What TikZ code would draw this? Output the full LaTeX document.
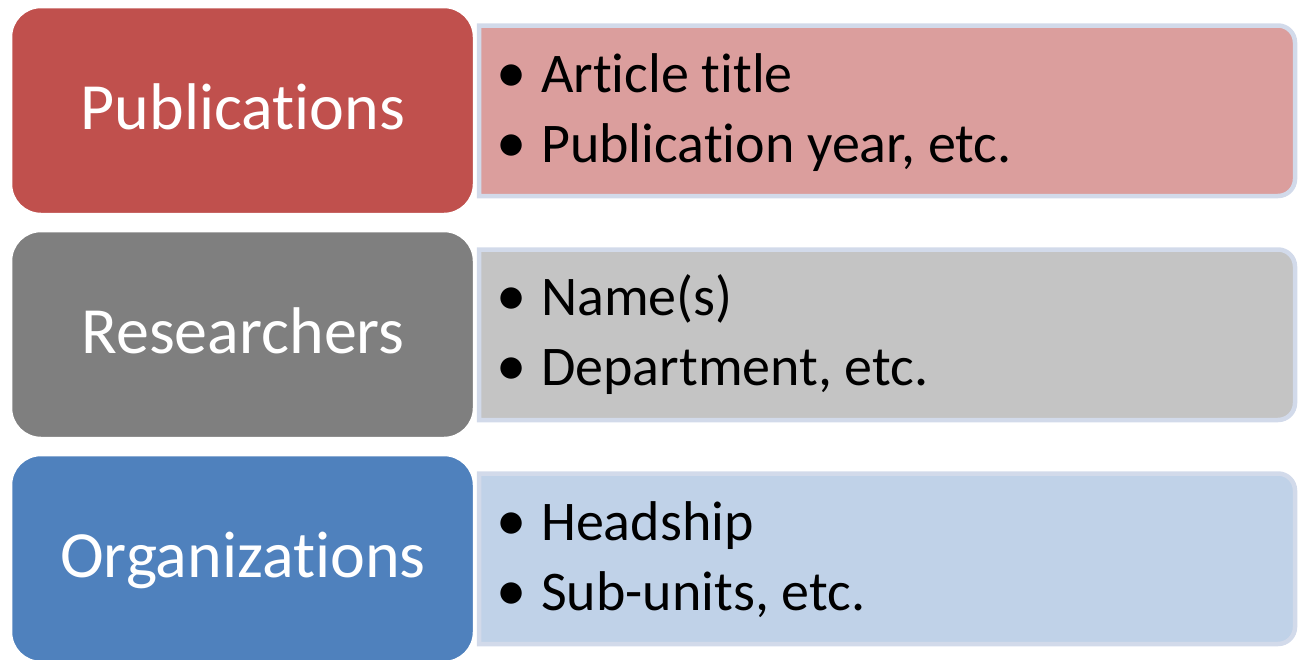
\documentclass[tikz,border=0pt]{standalone}
\usepackage{fontspec}
\setmainfont[RawFeature={-liga;-dlig;-clig}]{Carlito}
\definecolor{redL}{HTML}{C0504D}
\definecolor{redR}{HTML}{DB9E9D}
\definecolor{grayL}{HTML}{7F7F7F}
\definecolor{grayR}{HTML}{C4C4C4}
\definecolor{blueL}{HTML}{4F81BD}
\definecolor{blueR}{HTML}{C0D2E8}
\definecolor{rim}{HTML}{D2DAEA}
\tikzset{
  lbox/.style={draw=white, line width=2.5pt, rounded corners=30pt, minimum width=463pt, minimum height=207pt, inner sep=0pt},
  ltext/.style={text=white, font=\fontsize{66}{66}\selectfont, inner sep=0pt, anchor=base},
  rbox/.style={draw=rim, line width=4.5pt},
  rtext/.style={text=black, font=\fontsize{56}{70}\selectfont, inner sep=0pt, anchor=base west},
}
\newcommand{\bul}{\makebox[44pt][l]{\hspace*{-1pt}\scalebox{1.08}{\textbullet}}}
\begin{document}
\begin{tikzpicture}[x=1pt,y=-1pt]
\useasboundingbox (0,0) rectangle (1299,659);
\foreach \i/\cr/\cl in {0/redR/redL,1/grayR/grayL,2/blueR/blueL}{
  \pgfmathsetmacro{\dy}{224*\i}
  \draw[rbox, fill=\cr] (479,25.5+\dy) [rounded corners=17pt] -- (1295,25.5+\dy) -- (1295,196+\dy) [sharp corners] -- (479,196+\dy) -- cycle;
}
% left boxes
\node[lbox, fill=redL] (pub) at (242.5,110.5) {};
\node[lbox, fill=grayL] (res) at (242.5,334.5) {};
\node[lbox, fill=blueL] (org) at (242.5,558.5) {};
\node[ltext] (publ) at (243,129) {Publications};
\node[ltext] (resl) at (243,353) {Researchers};
\node[ltext] (orgl) at (243,577) {Organizations};
% lists
\node[rtext] (pub1) at (497,92) {\bul Article title};
\node[rtext] (pub2) at (497,162) {\bul Publication year, etc.};
\node[rtext] (res1) at (497,315) {\bul Name(s)};
\node[rtext] (res2) at (497,385) {\bul Department, etc.};
\node[rtext] (org1) at (497,540) {\bul Headship};
\node[rtext] (org2) at (497,610) {\bul Sub-units, etc.};
\end{tikzpicture}
\end{document}
